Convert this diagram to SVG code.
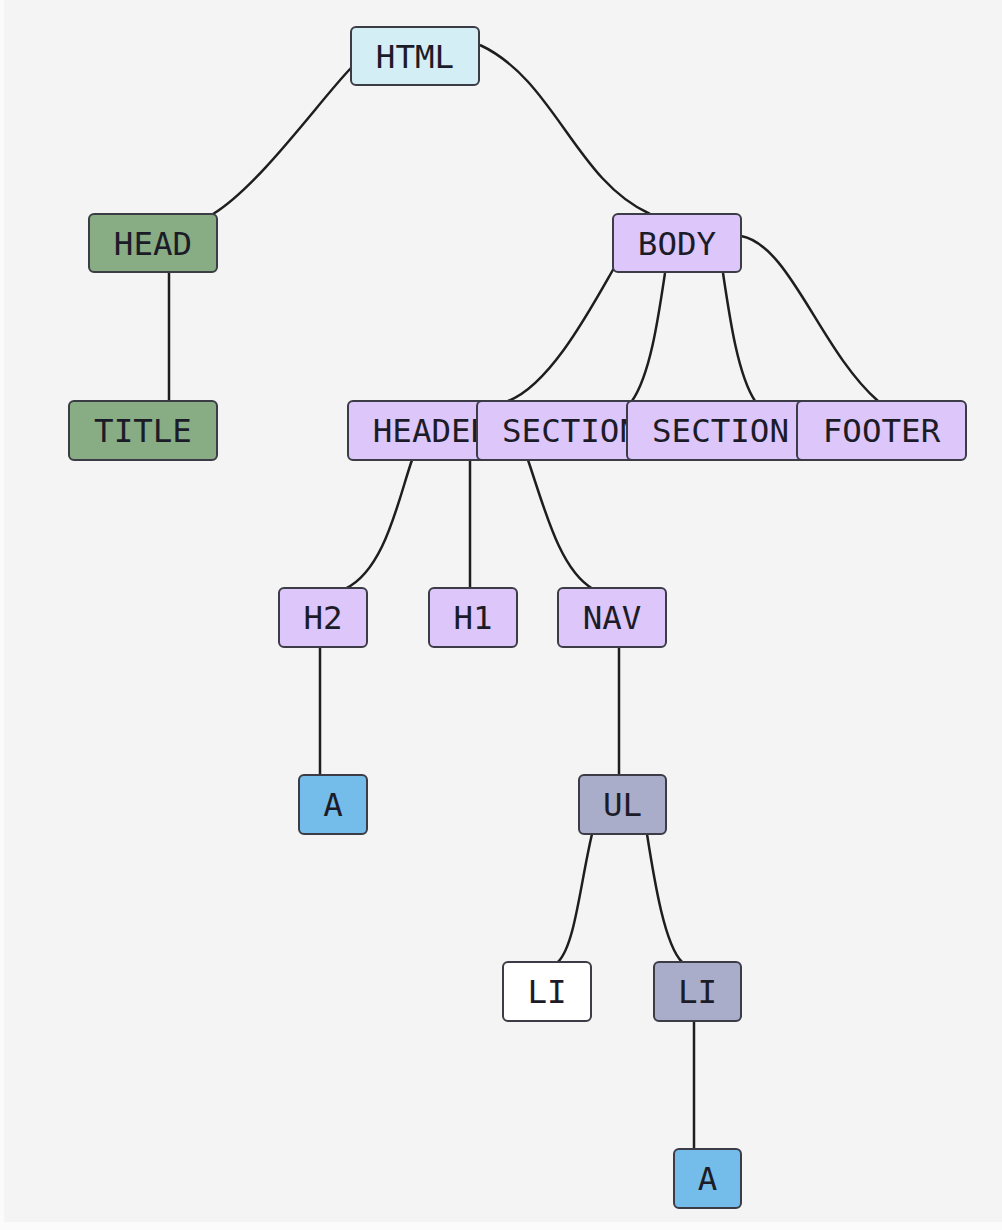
<svg xmlns="http://www.w3.org/2000/svg" width="1002" height="1230" viewBox="0 0 1002 1230">
<style>
.n rect{stroke:#3c3c46;stroke-width:2;rx:5px;ry:5px}
.n text{font-family:"DejaVu Sans Mono","Liberation Mono",monospace;font-size:32.5px;fill:#1c1c28;text-anchor:middle}
.e path{fill:none;stroke:#1e1e1e;stroke-width:2.5}
.pu{fill:#dcc6fa}.gr{fill:#88ac84}.cy{fill:#d4eef5}.bl{fill:#74bce9}.sl{fill:#a9adc9}.wh{fill:#ffffff}
</style>
<rect x="0" y="0" width="1002" height="1230" fill="#fbfbfb"/>
<rect x="4" y="0" width="998" height="1222" fill="#f4f4f4"/>
<g id="connectors" class="e">
<path d="M351,68 C320,100 260,185 213,214"/>
<path d="M480,45 C555,80 575,180 650,214"/>
<path d="M169,272 L169,401"/>
<path d="M614,268 C590,310 550,385 508,401"/>
<path d="M665,273 C658,320 650,375 632,401"/>
<path d="M723,273 C730,320 738,375 755,401"/>
<path d="M741,236 C790,245 820,350 878,401"/>
<path d="M412,460 C398,500 385,570 345,589"/>
<path d="M470,460 L470,588"/>
<path d="M528,460 C545,510 560,570 593,589"/>
<path d="M320,647 L320,775"/>
<path d="M619,647 L619,775"/>
<path d="M592,834 C580,885 575,945 558,962"/>
<path d="M647,834 C655,885 665,945 682,962"/>
<path d="M694,1021 L694,1149"/>
</g>
<g id="html" class="n"><rect class="cy" x="351" y="27" width="128" height="58"/><text x="415" y="67.5">HTML</text></g>
<g id="head" class="n"><rect class="gr" x="89" y="214" width="128" height="58"/><text x="153" y="254.5">HEAD</text></g>
<g id="body" class="n"><rect class="pu" x="613" y="214" width="128" height="58"/><text x="677" y="254.5">BODY</text></g>
<g id="title" class="n"><rect class="gr" x="69" y="401" width="148" height="59"/><text x="143" y="442">TITLE</text></g>
<g id="header" class="n"><rect class="pu" x="348" y="401" width="167" height="59"/><text x="431.5" y="442">HEADER</text></g>
<g id="section1" class="n"><rect class="pu" x="477" y="401" width="187" height="59"/><text x="570.5" y="442">SECTION</text></g>
<g id="section2" class="n"><rect class="pu" x="627" y="401" width="187" height="59"/><text x="720.5" y="442">SECTION</text></g>
<g id="footer" class="n"><rect class="pu" x="797" y="401" width="169" height="59"/><text x="881.5" y="442">FOOTER</text></g>
<g id="h2" class="n"><rect class="pu" x="279" y="588" width="88" height="59"/><text x="323" y="629">H2</text></g>
<g id="h1" class="n"><rect class="pu" x="429" y="588" width="88" height="59"/><text x="473" y="629">H1</text></g>
<g id="nav" class="n"><rect class="pu" x="558" y="588" width="108" height="59"/><text x="612" y="629">NAV</text></g>
<g id="a1" class="n"><rect class="bl" x="299" y="775" width="68" height="59"/><text x="333" y="816">A</text></g>
<g id="ul" class="n"><rect class="sl" x="579" y="775" width="87" height="59"/><text x="622.5" y="816">UL</text></g>
<g id="li1" class="n"><rect class="wh" x="503" y="962" width="88" height="59"/><text x="547" y="1003">LI</text></g>
<g id="li2" class="n"><rect class="sl" x="654" y="962" width="87" height="59"/><text x="697.5" y="1003">LI</text></g>
<g id="a2" class="n"><rect class="bl" x="674" y="1149" width="67" height="59"/><text x="707.5" y="1190">A</text></g>
</svg>
